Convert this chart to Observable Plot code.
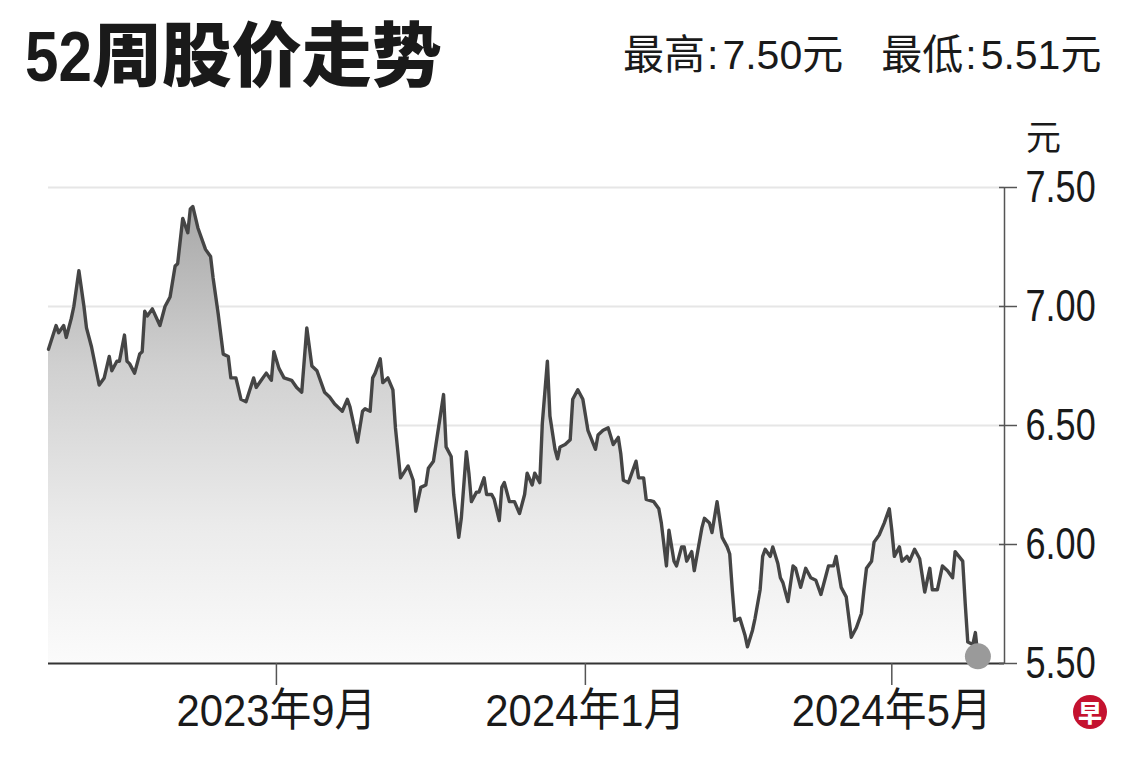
<!DOCTYPE html>
<html><head><meta charset="utf-8">
<script src="https://cdn.jsdelivr.net/npm/d3@7"></script>
<script src="https://cdn.jsdelivr.net/npm/@observablehq/plot@0.6"></script>
<style>
html,body{margin:0;padding:0;background:#fff;}
#wrap{position:relative;width:1140px;height:760px;overflow:hidden;font-family:"Liberation Sans","Noto Sans CJK SC",sans-serif;color:#1a1a1a;}
#title{position:absolute;left:25px;top:22px;font-size:70px;font-weight:900;line-height:1;white-space:nowrap;font-family:"Liberation Sans","Noto Sans CJK SC",sans-serif;}
#title .num{display:inline-block;transform:scaleX(0.86);transform-origin:left center;margin-right:-11px;}
#sub{position:absolute;left:623px;top:35px;font-size:41px;line-height:1;white-space:nowrap;}
#sub .c{margin:0 4px 0 2px;}
#unit{position:absolute;left:1026px;top:117px;font-size:35px;line-height:1;font-family:"Noto Sans CJK SC",sans-serif;}
#chart{position:absolute;left:0;top:110px;}
#logo{position:absolute;left:1073px;top:695px;width:34px;height:34px;border-radius:50%;background:#c4122f;color:#fff;font-size:24px;font-weight:900;text-align:center;line-height:34px;font-family:"Noto Sans CJK SC",sans-serif;}
</style></head>
<body><div id="wrap">
<div id="title"><span class="num">52</span>周股价走势</div>
<div id="sub">最高<span class="c">:</span>7.50元<span style="display:inline-block;width:38px"></span>最低<span class="c">:</span>5.51元</div>
<div id="unit">元</div>
<div id="chart"></div>
<div id="logo">早</div>
</div>
<script>
const dates = [
"2023-06-03","2023-06-06","2023-06-07","2023-06-09","2023-06-10","2023-06-12","2023-06-13","2023-06-15","2023-06-17","2023-06-18","2023-06-20","2023-06-23","2023-06-25","2023-06-27","2023-06-28","2023-06-30",
"2023-07-01","2023-07-03","2023-07-04","2023-07-05","2023-07-07","2023-07-09","2023-07-10","2023-07-11","2023-07-12","2023-07-14","2023-07-17","2023-07-19","2023-07-21","2023-07-23","2023-07-24","2023-07-26","2023-07-28","2023-07-29","2023-07-30",
"2023-08-01","2023-08-04","2023-08-06","2023-08-07","2023-08-09","2023-08-11","2023-08-13","2023-08-14","2023-08-16","2023-08-18","2023-08-20","2023-08-23","2023-08-24","2023-08-26","2023-08-28","2023-08-30","2023-08-31",
"2023-09-02","2023-09-04","2023-09-07","2023-09-09","2023-09-11","2023-09-13","2023-09-15","2023-09-17","2023-09-20","2023-09-22","2023-09-24","2023-09-27","2023-09-29","2023-09-30",
"2023-10-03","2023-10-05","2023-10-06","2023-10-08","2023-10-09","2023-10-10","2023-10-12","2023-10-13","2023-10-15","2023-10-17","2023-10-18","2023-10-20","2023-10-23","2023-10-25","2023-10-26","2023-10-28","2023-10-30","2023-10-31",
"2023-11-02","2023-11-03","2023-11-06","2023-11-07","2023-11-09","2023-11-10","2023-11-12","2023-11-13","2023-11-15","2023-11-16","2023-11-17","2023-11-19","2023-11-20","2023-11-22","2023-11-23","2023-11-25","2023-11-26","2023-11-28","2023-11-29","2023-11-30",
"2023-12-02","2023-12-04","2023-12-06","2023-12-08","2023-12-09","2023-12-11","2023-12-12","2023-12-14","2023-12-15","2023-12-17","2023-12-18","2023-12-20","2023-12-21","2023-12-22","2023-12-24","2023-12-26","2023-12-27","2023-12-29","2023-12-31",
"2024-01-02","2024-01-05","2024-01-06","2024-01-08","2024-01-10","2024-01-12","2024-01-14","2024-01-15","2024-01-16","2024-01-18","2024-01-21","2024-01-22","2024-01-24","2024-01-25","2024-01-28","2024-01-30","2024-01-31",
"2024-02-02","2024-02-03","2024-02-05","2024-02-06","2024-02-08","2024-02-09","2024-02-10","2024-02-12","2024-02-13","2024-02-16","2024-02-17","2024-02-19","2024-02-20","2024-02-22","2024-02-24","2024-02-26","2024-02-27","2024-02-28","2024-02-29",
"2024-03-02","2024-03-04","2024-03-05","2024-03-07","2024-03-08","2024-03-10","2024-03-11","2024-03-12","2024-03-14","2024-03-15","2024-03-17","2024-03-18","2024-03-19","2024-03-21","2024-03-23","2024-03-24","2024-03-26","2024-03-28","2024-03-30",
"2024-04-01","2024-04-03","2024-04-05","2024-04-06","2024-04-08","2024-04-09","2024-04-11","2024-04-13","2024-04-15","2024-04-17","2024-04-19","2024-04-20","2024-04-21","2024-04-23","2024-04-24","2024-04-26","2024-04-28","2024-04-30",
"2024-05-01","2024-05-02","2024-05-04","2024-05-05","2024-05-07","2024-05-08","2024-05-10","2024-05-12","2024-05-14","2024-05-16","2024-05-17","2024-05-19","2024-05-21","2024-05-23","2024-05-25","2024-05-26","2024-05-29","2024-05-30","2024-05-31",
"2024-06-02","2024-06-03","2024-06-04"
];
const prices = [
6.82,6.92,6.89,6.92,6.87,6.95,7.00,7.15,7.00,6.91,6.83,6.67,6.70,6.79,6.73,6.77,
6.77,6.88,6.77,6.76,6.72,6.80,6.81,6.98,6.96,6.99,6.92,7.00,7.04,7.17,7.18,7.37,7.31,7.41,7.42,
7.33,7.24,7.21,7.12,6.97,6.80,6.79,6.70,6.70,6.61,6.60,6.70,6.66,6.69,6.72,6.69,6.81,
6.74,6.70,6.69,6.66,6.64,6.91,6.75,6.73,6.64,6.62,6.59,6.56,6.61,6.58,
6.43,6.56,6.57,6.56,6.70,6.72,6.78,6.68,6.70,6.65,6.49,6.28,6.33,6.27,6.14,6.24,6.25,6.32,
6.35,6.42,6.63,6.41,6.37,6.21,6.03,6.11,6.39,6.30,6.18,6.22,6.22,6.28,6.21,6.21,6.19,6.10,6.24,6.26,
6.18,6.18,6.13,6.21,6.30,6.25,6.30,6.26,6.51,6.77,6.54,6.40,6.36,6.41,6.42,6.44,6.61,6.65,6.61,
6.48,6.40,6.46,6.48,6.49,6.42,6.45,6.38,6.27,6.26,6.35,6.28,6.28,6.19,6.18,6.15,6.09,
5.91,6.06,5.93,5.91,5.99,5.99,5.93,5.97,5.89,6.07,6.11,6.09,6.05,6.18,6.03,5.99,5.96,5.81,5.68,
5.69,5.62,5.57,5.64,5.69,5.81,5.95,5.98,5.95,5.99,5.92,5.86,5.84,5.76,5.91,5.90,5.82,5.90,5.86,
5.85,5.79,5.87,5.91,5.91,5.95,5.82,5.78,5.61,5.65,5.71,5.81,5.90,5.93,6.01,6.04,6.09,6.15,
6.06,5.95,5.99,5.93,5.95,5.93,5.98,5.94,5.80,5.90,5.81,5.81,5.91,5.89,5.86,5.97,5.93,5.75,5.59,
5.58,5.63,5.53
];
const yTicks = [5.5, 6.0, 6.5, 7.0, 7.5];
const xTickDates = ["2023-09-01", "2024-01-01", "2024-05-01"];
const xDomain = ["2023-06-03", "2024-06-14T12:00Z"];

const data = dates.map((d, i) => ({date: new Date(d), price: prices[i]}));
const xTicks = xTickDates.map(d => new Date(d));
const domainX = xDomain.map(d => new Date(d));
const fontStack = '"Liberation Sans","Noto Sans CJK SC",sans-serif';

const plot = Plot.plot({
  width: 1140, height: 640,
  marginLeft: 48, marginRight: 136, marginTop: 77, marginBottom: 87,
  style: {fontFamily: fontStack, fontSize: "44px", color: "#1a1a1a", background: "transparent", overflow: "visible"},
  x: {type: "utc", domain: domainX},
  y: {domain: [yTicks[0], yTicks[yTicks.length - 1]]},
  marks: [
    Plot.ruleY(yTicks.slice(1), {stroke: "#e6e6e6", strokeWidth: 2}),
    Plot.areaY(data, {x: "date", y1: yTicks[0], y2: "price", fill: "url(#areaGrad)"}),
    Plot.line(data, {x: "date", y: "price", stroke: "#454545", strokeWidth: 3.4, strokeLinejoin: "round"}),
    Plot.ruleY([yTicks[0]], {stroke: "#333", strokeWidth: 2}),
    Plot.ruleX([domainX[1]], {y1: yTicks[0], y2: yTicks[yTicks.length - 1], stroke: "#555", strokeWidth: 1.5}),
    Plot.axisY({anchor: "right", ticks: yTicks, tickFormat: d3.format(".2f"), tickSize: 18, dx: -6, tickPadding: 9, fontSize: 44, stroke: "#555", strokeWidth: 1.5, label: null}),
    Plot.axisX({anchor: "bottom", ticks: xTicks, tickFormat: d => `${d.getUTCFullYear()}年${d.getUTCMonth() + 1}月`, tickSize: 22, tickPadding: 9, fontSize: 45, stroke: "#555", strokeWidth: 1.5, label: null}),
    Plot.dot(data.slice(-1), {x: "date", y: "price", r: 13, fill: "#9a9a9a"})
  ]
});

const svg = d3.select(plot);
const grad = svg.insert("defs", ":first-child").append("linearGradient")
  .attr("id", "areaGrad").attr("x1", 0).attr("x2", 0).attr("y1", 0).attr("y2", 1);
[[0, "#a8a8a8"], [0.35, "#d0d0d0"], [0.7, "#ebebeb"], [1, "#fbfbfb"]].forEach(([o, c]) =>
  grad.append("stop").attr("offset", o).attr("stop-color", c));

document.getElementById("chart").appendChild(plot);

// condense the tick labels, as in the reference's narrow type
svg.selectAll('g[aria-label="y-axis tick label"] text').each(function() {
  const w = this.getComputedTextLength();
  d3.select(this).attr("textLength", w * 0.82).attr("lengthAdjust", "spacingAndGlyphs");
});
svg.selectAll('g[aria-label="x-axis tick label"] text').each(function() {
  const w = this.getComputedTextLength();
  d3.select(this).attr("textLength", w * 0.93).attr("lengthAdjust", "spacingAndGlyphs");
});
</script>
</body></html>
